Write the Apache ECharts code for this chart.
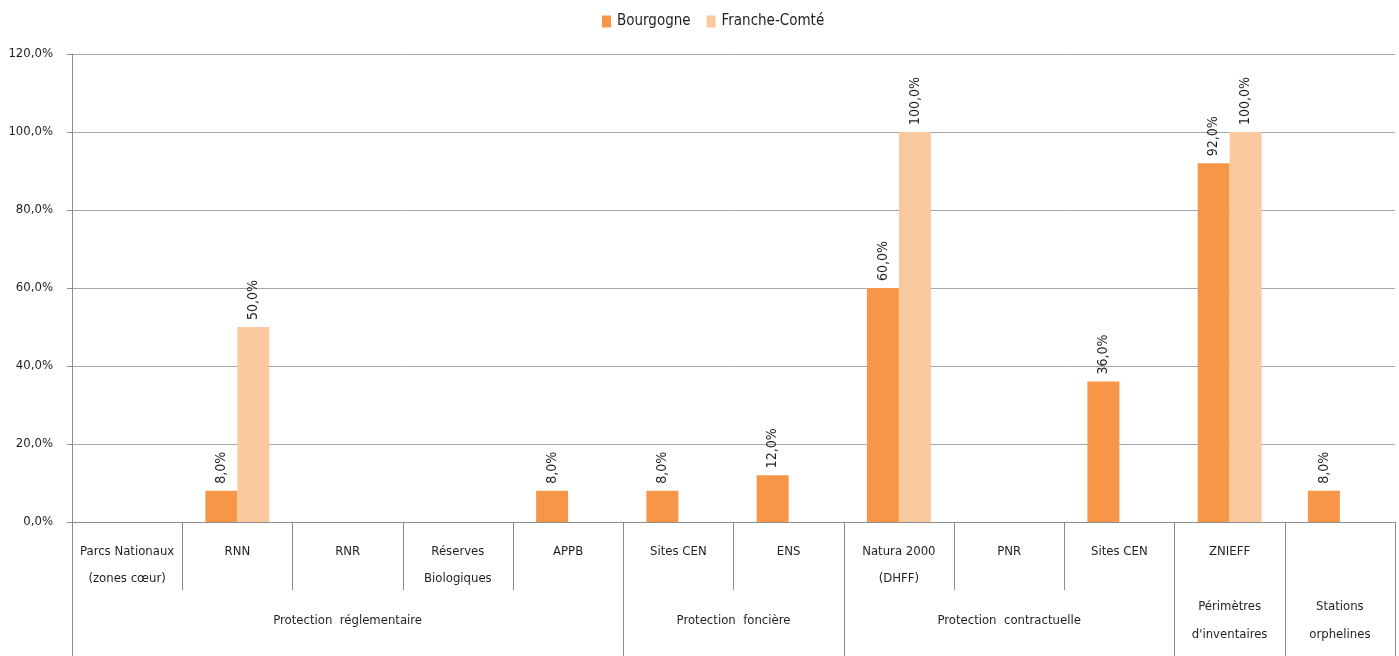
<!DOCTYPE html>
<html><head><meta charset="utf-8">
<script src="https://cdn.jsdelivr.net/npm/echarts@6/dist/echarts.min.js"></script>
<style>html,body{margin:0;padding:0;background:#fff}#c{width:1399px;height:656px}</style>
</head><body><div id="c"></div>
<script>
var categories = ['Parcs Nationaux\n(zones cœur)', 'RNN', 'RNR', 'Réserves\nBiologiques', 'APPB', 'Sites CEN', 'ENS', 'Natura 2000\n(DHFF)', 'PNR', 'Sites CEN', 'ZNIEFF', ''];
var groupNames = ['Protection  réglementaire', 'Protection  foncière', 'Protection  contractuelle', 'Périmètres\nd\'inventaires', 'Stations\norphelines'];
var groupSpans = [5, 2, 3, 1, 1];
var bourgogne = [0, 8, 0, 0, 8, 8, 12, 60, 0, 36, 92, 8];
var francheComte = [0, 50, 0, 0, 0, 0, 0, 100, 0, 0, 100, 0];
var yTicks = [0, 20, 40, 60, 80, 100, 120];

var FONT = '"Liberation Sans Narrow", "DejaVu Sans Condensed", "Noto Sans", sans-serif';
var TXT = '#1f1f1f';

// group axis: half-category points (boundaryGap false)
var groupPoints = [];
var tickIdx = {0: true};
var labelIdx = {};
var pos = 0;
for (var i = 0; i <= categories.length * 2; i++) groupPoints.push('');
groupSpans.forEach(function (s, k) {
  var center = pos + s / 2;
  groupPoints[Math.round(center * 2)] = groupNames[k];
  labelIdx[Math.round(center * 2)] = true;
  pos += s;
  tickIdx[pos * 2] = true;
});

function fmt(v) { return v.toFixed(1).replace('.', ',') + '%'; }

var barLabel = {
  show: true, position: 'top', rotate: 90, distance: 7,
  align: 'left', verticalAlign: 'middle',
  color: TXT, fontFamily: FONT, fontSize: 14,
  formatter: function (p) { return p.value ? fmt(p.value) : ''; }
};

var chart = echarts.init(document.getElementById('c'));
chart.setOption({
  animation: false,
  textStyle: { fontFamily: FONT, color: TXT },
  legend: {
    top: 9, left: 597, itemWidth: 9, itemHeight: 12, itemGap: 16, icon: 'rect',
    textStyle: { fontFamily: FONT, fontSize: 15, color: TXT, padding: [0, 0, 0, 1] },
    data: ['Bourgogne', 'Franche-Comté']
  },
  grid: { left: 72, right: 4, top: 54, bottom: 134, containLabel: false },
  xAxis: [{
    type: 'category', data: categories, position: 'bottom',
    axisLine: { show: true, lineStyle: { color: '#8c8c8c', width: 1 } },
    axisTick: { show: true, length: 68, lineStyle: { color: '#8c8c8c' } },
    axisLabel: { margin: 16, interval: 0, fontSize: 13, lineHeight: 27, color: TXT, fontFamily: FONT, verticalAlign: 'top' }
  }, {
    type: 'category', data: groupPoints, position: 'bottom', boundaryGap: false,
    axisLine: { show: false },
    axisTick: { show: true, length: 134, interval: function (i) { return !!tickIdx[i]; }, lineStyle: { color: '#8c8c8c' } },
    axisLabel: { margin: 99, interval: function (i) { return !!labelIdx[i]; }, fontSize: 13, lineHeight: 28, color: TXT, fontFamily: FONT, verticalAlign: 'middle' },
    splitLine: { show: false }
  }],
  yAxis: {
    type: 'value', min: yTicks[0], max: yTicks[yTicks.length - 1], interval: 20,
    axisLine: { show: true, lineStyle: { color: '#8c8c8c' } },
    axisTick: { show: true, length: 5, lineStyle: { color: '#8c8c8c' } },
    axisLabel: { formatter: function (v) { return fmt(v); }, margin: 19, fontSize: 13, color: TXT, fontFamily: FONT },
    splitLine: { show: true, lineStyle: { color: '#a6a6a6', width: 1 } }
  },
  series: [{
    name: 'Bourgogne', type: 'bar', data: bourgogne, xAxisIndex: 0,
    barGap: '0%', barCategoryGap: '42%',
    itemStyle: { color: '#F79646' }, label: barLabel
  }, {
    name: 'Franche-Comté', type: 'bar', data: francheComte, xAxisIndex: 0,
    itemStyle: { color: '#FAC99F' }, label: barLabel
  }]
});
</script></body></html>
